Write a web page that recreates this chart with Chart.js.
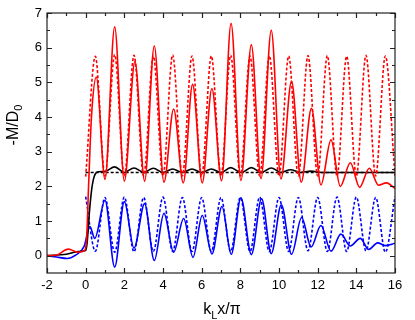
<!DOCTYPE html>
<html>
<head>
<meta charset="utf-8">
<script src="https://cdn.jsdelivr.net/npm/chart.js@4/dist/chart.umd.min.js"></script>
<style>
  html, body { margin: 0; padding: 0; background: #fff; }
  #wrap { width: 415px; height: 320px; position: relative; }
</style>
</head>
<body>
<div id="wrap"><canvas id="myChart"></canvas></div>
<script>
// tick positions
var xTicks = [-2, 0, 2, 4, 6, 8, 10, 12, 14, 16];
var xMinorTicks = [-1, 1, 3, 5, 7, 9, 11, 13, 15];
var yTicks = [0, 1, 2, 3, 4, 5, 6, 7];
var yMinorTicks = [0.5, 1.5, 2.5, 3.5, 4.5, 5.5, 6.5];

// red solid
var redSolidX = [-2, -1.5, -0.9, -0.4, -0.05, 0.05, 0.15, 0.3, 0.55, 1.0, 1.5, 2.0, 2.55, 3.05, 3.55, 4.05, 4.55, 5.05, 5.53, 6.03, 6.53, 7.03, 7.52, 8.03, 8.57, 9.07, 9.6, 10.1, 10.65, 11.15, 11.68, 12.17, 12.69, 13.17, 13.69, 14.17, 14.67, 15.15, 15.55, 16];
var redSolidY = [0, 0.02, 0.19, 0.1, 0.15, 0.5, 2.0, 4.0, 5.15, 2.2, 6.6, 2.15, 5.6, 2.15, 6.05, 2.12, 4.23, 2.1, 4.94, 2.1, 4.82, 2.16, 6.7, 2.17, 6.08, 2.22, 6.5, 2.21, 5.03, 2.12, 4.25, 2.04, 3.34, 2.0, 2.68, 1.97, 2.52, 2.03, 2.1, 1.94];

// red dashed
var redDashX = [0, 0.5, 1, 1.5, 2, 2.5, 3, 3.5, 4, 4.5, 5, 5.5, 6, 6.5, 7, 7.5, 8, 8.5, 9, 9.5, 10, 10.5, 11, 11.5, 12, 12.5, 13, 13.5, 14, 14.5, 15, 15.5, 16];
var redDashY = [2.28, 5.75, 2.3, 5.8, 2.3, 5.78, 2.3, 5.76, 2.3, 5.79, 2.3, 5.76, 2.3, 5.76, 2.3, 5.78, 2.3, 5.76, 2.3, 5.77, 2.3, 5.76, 2.3, 5.77, 2.3, 5.77, 2.3, 5.75, 2.3, 5.78, 2.3, 5.76, 2.3];

// black solid
var blackSolidX = [-2, -1, -0.4, 0, 0.08, 0.2, 0.32, 0.45, 0.65, 1.0, 1.5, 2.0, 2.5, 3.0, 3.5, 4.0, 4.5, 5.0, 5.5, 6.0, 6.5, 7.0, 7.5, 8.05, 8.57, 9.1, 9.6, 10.1, 10.6, 11.1, 11.65, 12.2, 16];
var blackSolidY = [0, 0.04, 0.12, 0.15, 0.4, 1.3, 1.95, 2.3, 2.42, 2.43, 2.56, 2.4, 2.53, 2.4, 2.52, 2.4, 2.5, 2.4, 2.5, 2.4, 2.5, 2.4, 2.54, 2.4, 2.54, 2.4, 2.53, 2.4, 2.48, 2.4, 2.44, 2.4, 2.4];

// black dashed
var blackDashX = [0, 16];
var blackDashY = [2.4, 2.4];

// blue solid
var blueSolidX = [-2, -1.5, -0.95, -0.5, -0.08, 0.22, 0.47, 1.0, 1.5, 2.0, 2.5, 3.05, 3.55, 4.05, 4.55, 5.07, 5.55, 6.03, 6.53, 7.05, 7.53, 8.03, 8.57, 9.1, 9.6, 10.12, 10.65, 11.17, 11.66, 12.17, 12.69, 13.2, 13.69, 14.2, 14.64, 15.1, 15.5, 16];
var blueSolidY = [0, -0.04, -0.08, 0.02, 0.27, 0.84, 0.5, 1.6, -0.33, 1.56, 0.22, 1.5, -0.14, 1.22, 0.1, 1.07, -0.05, 1.16, 0.05, 1.42, 0.04, 1.67, 0.03, 1.64, 0.06, 1.47, 0.04, 1.1, 0.25, 0.87, 0.13, 0.62, 0.28, 0.5, 0.18, 0.37, 0.29, 0.36];

// blue dashed
var blueDashX = [0, 0.5, 1, 1.5, 2, 2.5, 3, 3.5, 4, 4.5, 5, 5.5, 6, 6.5, 7, 7.5, 8, 8.5, 9, 9.5, 10, 10.5, 11, 11.5, 12, 12.5, 13, 13.5, 14, 14.5, 15, 15.5, 16];
var blueDashY = [1.7, 0.13, 1.68, 0.1, 1.69, 0.11, 1.68, 0.12, 1.69, 0.12, 1.68, 0.12, 1.68, 0.12, 1.68, 0.12, 1.68, 0.12, 1.69, 0.12, 1.68, 0.12, 1.68, 0.14, 1.68, 0.12, 1.69, 0.12, 1.69, 0.14, 1.68, 0.1, 1.7];

function toPoints(xs, ys) {
    return xs.map(function(x, i) { return { x: x, y: ys[i] }; });
}

function line(xs, ys, color, dashed) {
    return {
        data: toPoints(xs, ys),
        borderColor: color,
        borderWidth: 1.6,
        borderDash: dashed ? [3, 2] : [],
        pointRadius: 0,
        fill: false,
        cubicInterpolationMode: 'monotone'
    };
}

// box around the plot with inward ticks on all four sides
var frameTicks = {
    id: 'frameTicks',
    afterDatasetsDraw: function(chart) {
        var ctx = chart.ctx, a = chart.chartArea;
        var xs = chart.scales.x, ys = chart.scales.y;
        ctx.save();
        ctx.strokeStyle = '#222';
        ctx.lineWidth = 1.2;
        ctx.strokeRect(a.left, a.top, a.right - a.left, a.bottom - a.top);
        ctx.beginPath();
        function xt(list, len) {
            list.forEach(function(v) {
                var px = Math.round(xs.getPixelForValue(v)) + 0.5;
                ctx.moveTo(px, a.bottom); ctx.lineTo(px, a.bottom - len);
                ctx.moveTo(px, a.top); ctx.lineTo(px, a.top + len);
            });
        }
        function yt(list, len) {
            list.forEach(function(v) {
                var py = Math.round(ys.getPixelForValue(v)) + 0.5;
                ctx.moveTo(a.left, py); ctx.lineTo(a.left + len, py);
                ctx.moveTo(a.right, py); ctx.lineTo(a.right - len, py);
            });
        }
        xt(xTicks, 5); xt(xMinorTicks, 3);
        yt(yTicks, 5); yt(yMinorTicks, 3);
        ctx.stroke();
        ctx.restore();
    }
};

// axis titles with subscripts
var axisTitles = {
    id: 'axisTitles',
    afterDraw: function(chart) {
        var ctx = chart.ctx;
        var big = '16px "Liberation Sans", Arial, sans-serif';
        var small = '11px "Liberation Sans", Arial, sans-serif';
        ctx.save();
        ctx.fillStyle = '#000';
        ctx.textBaseline = 'alphabetic';

        // x title: k_L x/pi
        ctx.font = big; var wk = ctx.measureText('k').width; var wr = ctx.measureText('x/\u03c0').width;
        ctx.font = small; var wl = ctx.measureText('L').width;
        var total = wk + wl + wr;
        var cx = (chart.chartArea.left + chart.chartArea.right) / 2 + 1;
        var x0 = cx - total / 2, base = 314;
        ctx.font = big; ctx.fillText('k', x0, base);
        ctx.font = small; ctx.fillText('L', x0 + wk, base + 5);
        ctx.font = big; ctx.fillText('x/\u03c0', x0 + wk + wl, base);

        // y title: -M/D_0
        ctx.font = big; var wm = ctx.measureText('-M/D').width;
        ctx.font = small; var w0 = ctx.measureText('0').width;
        var tot = wm + w0;
        ctx.translate(18, 125);
        ctx.rotate(-Math.PI / 2);
        ctx.font = big; ctx.fillText('-M/D', -tot / 2, 0);
        ctx.font = small; ctx.fillText('0', -tot / 2 + wm, 4);
        ctx.restore();
    }
};

var ctx = document.getElementById('myChart').getContext('2d');
var myChart = new Chart(ctx, {
    type: 'line',
    data: {
        datasets: [
            line(redSolidX, redSolidY, '#ff0000', false),
            line(redDashX, redDashY, '#ff0000', true),
            line(blackSolidX, blackSolidY, '#000000', false),
            line(blackDashX, blackDashY, '#000000', true),
            line(blueSolidX, blueSolidY, '#0000ff', false),
            line(blueDashX, blueDashY, '#0000ff', true)
        ]
    },
    options: {
        responsive: true,
        maintainAspectRatio: false,
        animation: false,
        layout: { padding: { left: 0, right: 20, top: 13, bottom: 0 } },
        plugins: {
            legend: { display: false },
            tooltip: { enabled: false }
        },
        scales: {
            x: {
                type: 'linear',
                min: -2,
                max: 16,
                afterBuildTicks: function(scale) {
                    scale.ticks = xTicks.map(function(v) { return { value: v }; });
                },
                afterFit: function(scale) { scale.height = 47; },
                grid: { display: false, drawTicks: false },
                border: { display: false },
                ticks: {
                    padding: 5,
                    color: '#000',
                    maxRotation: 0,
                    font: { family: '"Liberation Sans", Arial, sans-serif', size: 13 }
                }
            },
            y: {
                type: 'linear',
                min: -0.5,
                max: 7,
                afterBuildTicks: function(scale) {
                    scale.ticks = yTicks.map(function(v) { return { value: v }; });
                },
                afterFit: function(scale) { scale.width = 47; },
                grid: { display: false, drawTicks: false },
                border: { display: false },
                ticks: {
                    padding: 5,
                    color: '#000',
                    font: { family: '"Liberation Sans", Arial, sans-serif', size: 13 }
                }
            }
        }
    },
    plugins: [frameTicks, axisTitles]
});
</script>
</body>
</html>
